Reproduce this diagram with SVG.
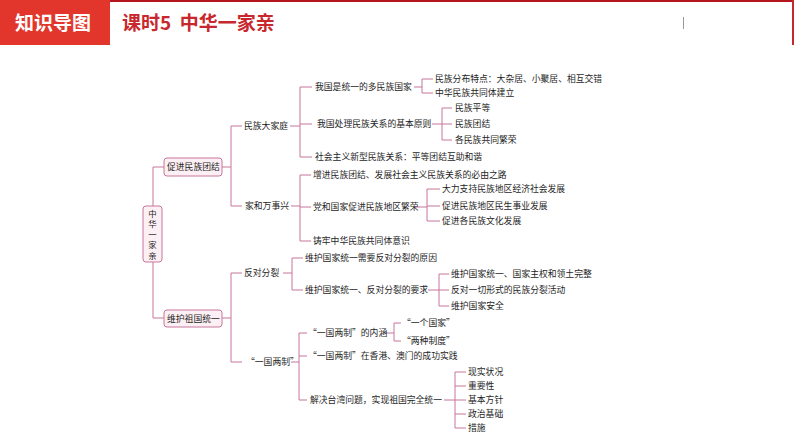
<svg xmlns="http://www.w3.org/2000/svg" width="794" height="447" viewBox="0 0 794 447">
<style>
.t{font-family:"Noto Sans CJK SC","Liberation Sans",sans-serif;font-size:8.8px;fill:#1e1e1e}
.v{font-family:"Noto Sans CJK SC","Liberation Sans",sans-serif;font-size:8.4px;fill:#1e1e1e}
.box{fill:#fdf0f4;stroke:#c8779b;stroke-width:1}
.c{stroke:#c8779b;stroke-width:1;fill:none}
.hd{font-family:"Noto Sans CJK SC","Liberation Sans",sans-serif;font-weight:bold;font-size:19px}
</style>
<rect width="794" height="447" fill="#fff"/>
<g id="header">
<rect x="0" y="0" width="794" height="2" fill="#b5161e"/>
<rect x="792" y="0" width="2" height="45" fill="#c8282d"/>
<rect x="0" y="0" width="110" height="45" fill="#e2352b"/>
<text class="hd" x="15" y="30" fill="#fff">知识导图</text>
<text class="hd" x="122" y="30" fill="#c8282d" font-size="20" xml:space="preserve">课时5  中华一家亲</text>
<line x1="683.5" y1="17" x2="683.5" y2="29" stroke="#999" stroke-width="1"/>
</g>
<g id="connectors" class="c">
<path d="M153 167V318M153 167H164M153 318H164"/>
<path d="M222 167H231M231 126V206M231 126H242M231 206H242"/>
<path d="M290 126H300M300 87V157M300 87H312M300 124H312M300 157H312"/>
<path d="M414 87H422M422 79V93M422 79H433M422 93H433"/>
<path d="M432 124H442M442 108V140M442 108H452M442 124H452M442 140H452"/>
<path d="M291 206H300M300 175V241M300 175H311M300 207H311M300 241H311"/>
<path d="M414 207H427M427 189V221M427 189H440M427 206H440M427 221H440"/>
<path d="M222 318H231M231 273V362M231 273H242M231 362H242"/>
<path d="M283 273H292M292 258V290M292 258H303M292 290H303"/>
<path d="M428 290H439M439 274V306M439 274H449M439 290H449M439 306H449"/>
<path d="M291 362H299M299 333V400M299 333H307M299 356H307M299 400H307"/>
<path d="M385 333H394M394 323V341M394 323H401M394 341H401"/>
<path d="M444 400H455M455 372V428M455 372H466M455 386H466M455 400H466M455 414H466M455 428H466"/>
</g>
<g id="root">
<rect class="box" x="143" y="206" width="19" height="56" rx="3"/>
<text class="v" x="152.5" y="216.5" text-anchor="middle">中</text>
<text class="v" x="152.5" y="227" text-anchor="middle">华</text>
<text class="v" x="152.5" y="237.5" text-anchor="middle">一</text>
<text class="v" x="152.5" y="248" text-anchor="middle">家</text>
<text class="v" x="152.5" y="258.5" text-anchor="middle">亲</text>
</g>
<g id="n-cjmztj"><rect class="box" x="164" y="158" width="58" height="18" rx="3"/><text class="t" x="167" y="170">促进民族团结</text></g>
<g id="n-whzgty"><rect class="box" x="164" y="310" width="58" height="17" rx="3"/><text class="t" x="167" y="321.5">维护祖国统一</text></g>
<g id="n-mzdjt"><text class="t" x="244" y="129">民族大家庭</text></g>
<g id="n-jhwsx"><text class="t" x="245" y="209">家和万事兴</text></g>
<g id="n-a1"><text class="t" x="315" y="90">我国是统一的多民族国家</text></g>
<g id="n-a1a"><text class="t" x="435" y="82">民族分布特点：大杂居、小聚居、相互交错</text></g>
<g id="n-a1b"><text class="t" x="435" y="96">中华民族共同体建立</text></g>
<g id="n-a2"><text class="t" x="317" y="127">我国处理民族关系的基本原则</text></g>
<g id="n-a2a"><text class="t" x="455" y="111">民族平等</text></g>
<g id="n-a2b"><text class="t" x="455" y="127">民族团结</text></g>
<g id="n-a2c"><text class="t" x="455" y="143">各民族共同繁荣</text></g>
<g id="n-a3"><text class="t" x="315" y="160">社会主义新型民族关系：平等团结互助和谐</text></g>
<g id="n-b1"><text class="t" x="313" y="178">增进民族团结、发展社会主义民族关系的必由之路</text></g>
<g id="n-b2"><text class="t" x="313" y="210">党和国家促进民族地区繁荣</text></g>
<g id="n-b2a"><text class="t" x="442" y="192">大力支持民族地区经济社会发展</text></g>
<g id="n-b2b"><text class="t" x="442" y="209">促进民族地区民生事业发展</text></g>
<g id="n-b2c"><text class="t" x="442" y="224">促进各民族文化发展</text></g>
<g id="n-b3"><text class="t" x="313" y="244">铸牢中华民族共同体意识</text></g>
<g id="n-fdfl"><text class="t" x="244" y="276">反对分裂</text></g>
<g id="n-c1"><text class="t" x="305" y="261">维护国家统一需要反对分裂的原因</text></g>
<g id="n-c2"><text class="t" x="305" y="293">维护国家统一、反对分裂的要求</text></g>
<g id="n-c2a"><text class="t" x="451" y="277">维护国家统一、国家主权和领土完整</text></g>
<g id="n-c2b"><text class="t" x="451" y="293">反对一切形式的民族分裂活动</text></g>
<g id="n-c2c"><text class="t" x="451" y="309">维护国家安全</text></g>
<g id="n-ygls"><text class="t" x="246" y="365">“一国两制”</text></g>
<g id="n-d1"><text class="t" x="308" y="336">“一国两制”的内涵</text></g>
<g id="n-d1a"><text class="t" x="402" y="326">“一个国家”</text></g>
<g id="n-d1b"><text class="t" x="402" y="344">“两种制度”</text></g>
<g id="n-d2"><text class="t" x="308" y="359">“一国两制”在香港、澳门的成功实践</text></g>
<g id="n-d3"><text class="t" x="310" y="403">解决台湾问题，实现祖国完全统一</text></g>
<g id="n-d3a"><text class="t" x="468" y="375">现实状况</text></g>
<g id="n-d3b"><text class="t" x="468" y="389">重要性</text></g>
<g id="n-d3c"><text class="t" x="468" y="403">基本方针</text></g>
<g id="n-d3d"><text class="t" x="468" y="417">政治基础</text></g>
<g id="n-d3e"><text class="t" x="468" y="431">措施</text></g>
</svg>
